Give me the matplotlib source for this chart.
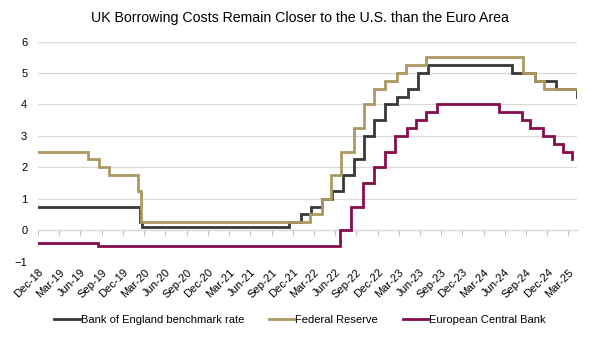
import matplotlib
matplotlib.use("Agg")
import matplotlib.pyplot as plt
import pandas as pd

plt.rcParams['font.family'] = ['Liberation Sans', 'DejaVu Sans']

# policy rate decisions (date of change, new rate %)
boe_dates = ["2018-12-31", "2020-03-11", "2020-03-19", "2021-12-16", "2022-02-03",
             "2022-03-17", "2022-05-05", "2022-06-16", "2022-08-04", "2022-09-22",
             "2022-11-03", "2022-12-15", "2023-02-02", "2023-03-23", "2023-05-11",
             "2023-06-22", "2023-08-03", "2024-08-01", "2024-11-07", "2025-02-06",
             "2025-05-08"]
boe_rates = [0.75, 0.25, 0.1, 0.25, 0.5, 0.75, 1.0, 1.25, 1.75, 2.25, 3.0, 3.5, 4.0,
             4.25, 4.5, 5.0, 5.25, 5.0, 4.75, 4.5, 4.25]

fed_dates = ["2018-12-31", "2019-07-31", "2019-09-18", "2019-10-30", "2020-03-03",
             "2020-03-15", "2022-03-16", "2022-05-04", "2022-06-15", "2022-07-27",
             "2022-09-21", "2022-11-02", "2022-12-14", "2023-02-01", "2023-03-22",
             "2023-05-03", "2023-07-26", "2024-09-18", "2024-11-07", "2024-12-18",
             "2025-05-08"]
fed_rates = [2.5, 2.25, 2.0, 1.75, 1.25, 0.25, 0.5, 1.0, 1.75, 2.5, 3.25, 4.0, 4.5,
             4.75, 5.0, 5.25, 5.5, 5.0, 4.75, 4.5, 4.5]

ecb_dates = ["2018-12-31", "2019-09-12", "2022-07-21", "2022-09-08", "2022-10-27",
             "2022-12-15", "2023-02-02", "2023-03-16", "2023-05-04", "2023-06-15",
             "2023-07-27", "2023-09-14", "2024-06-06", "2024-09-12", "2024-10-17",
             "2024-12-12", "2025-01-30", "2025-03-06", "2025-04-17"]
ecb_rates = [-0.4, -0.5, 0.0, 0.75, 1.5, 2.0, 2.5, 3.0, 3.25, 3.5, 3.75, 4.0, 3.75,
             3.5, 3.25, 3.0, 2.75, 2.5, 2.25]

series = [
    ("Bank of England benchmark rate", boe_dates, boe_rates, "#383838"),
    ("Federal Reserve", fed_dates, fed_rates, "#ab9862"),
    ("European Central Bank", ecb_dates, ecb_rates, "#880d4e"),
]

# quarterly tick labels, Dec-18 .. Mar-25
ticks = pd.date_range("2018-12-31", "2025-03-31", freq="QE")
tick_labels = [d.strftime("%b-%y") for d in ticks]

fig = plt.figure(figsize=(6, 3.38), dpi=100)
ax = fig.add_axes([0.064, 0.226, 0.898, 0.651])

for name, dates, rates, color in series:
    ax.step(pd.to_datetime(dates), rates, where="post", color=color, lw=2.0,
            label=name, solid_joinstyle="miter")

ax.set_ylim(-1, 6)
ax.set_yticks(range(-1, 7))
ax.set_xlim(pd.Timestamp("2018-12-31"), pd.Timestamp("2025-05-08"))
ax.grid(axis="y", color="#d9d9d9", lw=0.9)
ax.set_axisbelow(True)
for s in ax.spines.values():
    s.set_visible(False)

ax.set_xticks(ticks)
ax.set_xticklabels(tick_labels, rotation=45, ha="right", rotation_mode="anchor")
ax.tick_params(axis="x", length=0, pad=4, labelsize=8)
ax.tick_params(axis="y", length=0, pad=8, labelsize=8)

# axis line with tick marks at zero
zero_axis = ax.secondary_xaxis(1 / 7)
zero_axis.set_xticks(ticks)
zero_axis.tick_params(axis="x", length=3.5, color="#bfbfbf", labelbottom=False)
zero_axis.spines["bottom"].set_color("#bfbfbf")
for side in ("top", "left", "right"):
    zero_axis.spines[side].set_visible(False)

fig.suptitle("UK Borrowing Costs Remain Closer to the U.S. than the Euro Area",
             x=0.5, y=0.968, fontsize=10.2)
fig.legend(loc="center", bbox_to_anchor=(0.5, 0.053), ncol=3, frameon=False,
           fontsize=8, handlelength=2.3, handletextpad=0.1, columnspacing=2.2)

fig.savefig("out.png", dpi=100)
